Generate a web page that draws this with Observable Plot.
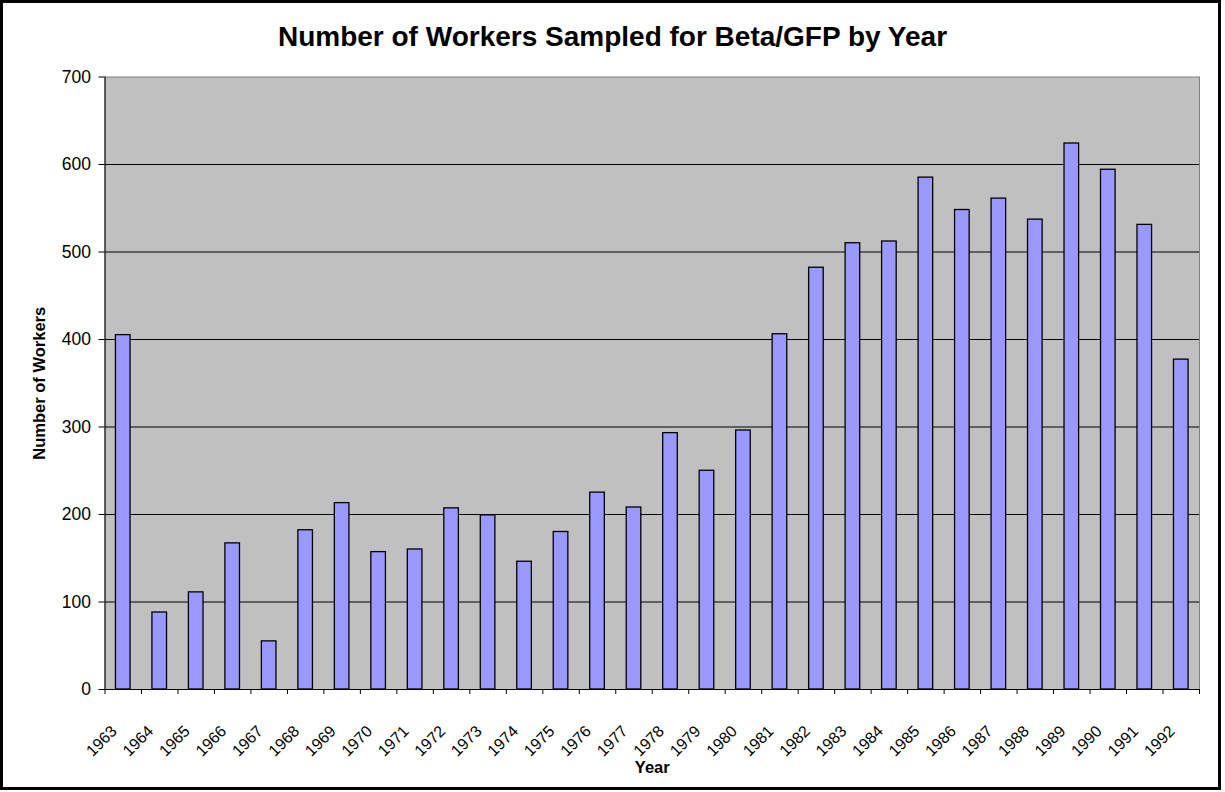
<!DOCTYPE html>
<html>
<head>
<meta charset="utf-8">
<script src="https://cdn.jsdelivr.net/npm/d3@7"></script>
<script src="https://cdn.jsdelivr.net/npm/@observablehq/plot@0.6"></script>
<style>
    body { margin: 0; background: #fff; }
    #wrap { position: relative; width: 1225px; height: 792px; font-family: "Liberation Sans", Arial, sans-serif; }
    #border { position: absolute; left: 0; top: 0; width: 1221px; height: 790px; box-sizing: border-box; border: 3px solid #000; pointer-events: none; }
    #title { position: absolute; left: 0; top: 21px; width: 1225px; text-align: center; font-size: 28px; font-weight: bold; color: #000; line-height: 32px; }
    #chart { position: absolute; left: 0; top: 0; }
</style>
</head>
<body>
<div id="wrap">
    <div id="chart"></div>
    <div id="title">Number of Workers Sampled for Beta/GFP by Year</div>
    <div id="border"></div>
</div>
<script>
const years = d3.range(1963, 1993);
const workers = [
    405, 88, 111, 167, 55, 182, 213, 157, 160, 207,
    199, 146, 180, 225, 208, 293, 250, 296, 406, 482,
    510, 512, 585, 548, 561, 537, 624, 594, 531, 377
];
const yTicks = [0, 100, 200, 300, 400, 500, 600, 700];
const gridValues = [100, 200, 300, 400, 500, 600];

const data = years.map((year, i) => ({ year, count: workers[i] }));
const boundaries = years.map((y) => y - 0.5).concat([years[years.length - 1] + 0.5]);

const font = "Liberation Sans, Arial, sans-serif";

const chart = Plot.plot({
    width: 1225,
    height: 792,
    marginLeft: 104.5,
    marginRight: 26,
    marginTop: 76.5,
    marginBottom: 103,
    style: { fontFamily: font, color: "#000", background: "transparent" },
    x: { type: "linear", domain: [1962.5, 1992.5] },
    y: { domain: [0, 700] },
    marks: [
        Plot.frame({ fill: "#C0C0C0" }),
        Plot.ruleY(gridValues, { stroke: "#000", strokeWidth: 1 }),
        Plot.rectY(data, {
            x1: (d) => d.year - 0.2,
            x2: (d) => d.year + 0.2,
            y: "count",
            fill: "#9999FF",
            stroke: "#000",
            strokeWidth: 1.3,
        }),
        Plot.frame({ stroke: "#808080" }),
        Plot.ruleX([1962.5], { stroke: "#000" }),
        Plot.ruleY([0], { stroke: "#000" }),
        Plot.axisY({
            ticks: yTicks,
            tickSize: 6,
            tickPadding: 8,
            fontSize: 17.5,
            label: null,
        }),
        Plot.axisX({
            ticks: boundaries,
            tickSize: 5,
            tickFormat: () => "",
            label: null,
        }),
        Plot.axisX({
            ticks: years,
            tickSize: 0,
            tickPadding: 0,
            tickRotate: -45,
            tickFormat: (d) => String(d),
            fontSize: 16,
            dx: -9,
            dy: 39,
            label: null,
        }),
        Plot.text(["Number of Workers"], {
            frameAnchor: "left",
            textAnchor: "middle",
            rotate: -90,
            dx: -65,
            fontSize: 16.5,
            fontWeight: "bold",
        }),
        Plot.text(["Year"], {
            frameAnchor: "bottom",
            dy: 83,
            fontSize: 16.5,
            fontWeight: "bold",
        }),
    ],
});

document.querySelector("#chart").append(chart);
</script>
</body>
</html>
